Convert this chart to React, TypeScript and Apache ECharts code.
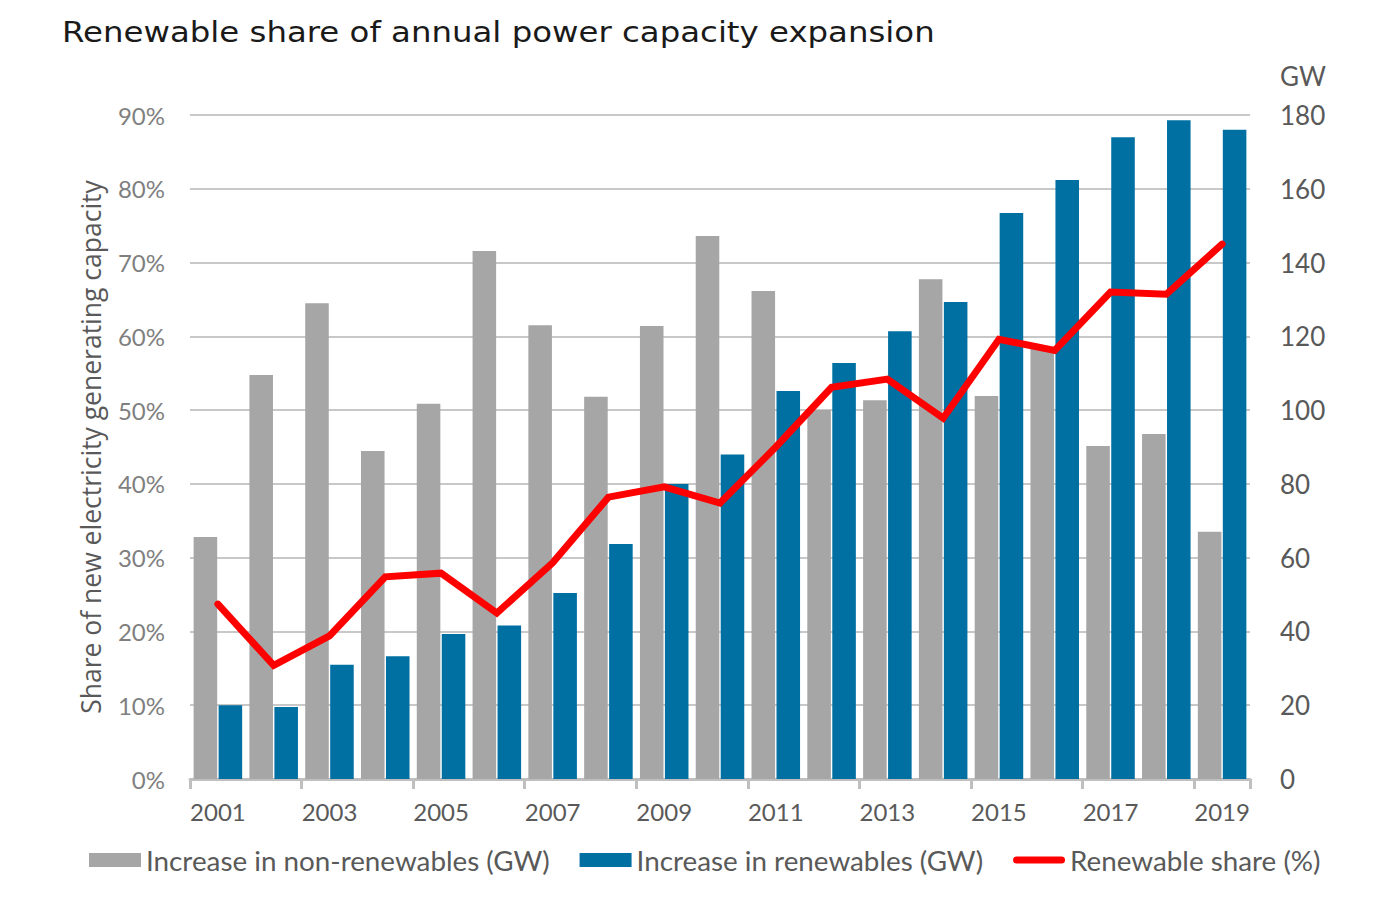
import React, { useEffect, useRef } from "react";
import * as echarts from "echarts";

const years = ["2001","2002","2003","2004","2005","2006","2007","2008","2009","2010","2011","2012","2013","2014","2015","2016","2017","2018","2019"];
const nonRenewablesGW = [65.6, 109.5, 129, 88.9, 101.7, 143.1, 123, 103.6, 122.8, 147.2, 132.3, 100, 102.7, 135.5, 103.8, 117, 90.3, 93.5, 67];
const renewablesGW = [20, 19.5, 31, 33.3, 39.3, 41.6, 50.4, 63.7, 80, 88, 105.2, 112.8, 121.4, 129.3, 153.4, 162.4, 174, 178.6, 176];
const renewableSharePct = [23.7, 15.4, 19.4, 27.4, 27.9, 22.5, 29.3, 38.2, 39.6, 37.4, 45, 53.1, 54.2, 48.9, 59.6, 58.1, 66, 65.7, 72.5];
const titleText = "Renewable share of annual power capacity expansion";

const FONT = "Lato";

export default function App() {
  const ref = useRef<HTMLDivElement>(null);
  useEffect(() => {
    if (!ref.current) return;
    const chart = echarts.init(ref.current, null, { renderer: "svg" });
    chart.setOption({
      animation: false,
      backgroundColor: "#ffffff",
      textStyle: { fontFamily: FONT },
      graphic: [
        {
          type: "text",
          x: 62,
          y: 32,
          scaleX: 1.117,
          style: {
            text: titleText,
            font: '29px "DejaVu Sans"',
            fill: "#1a1a1a",
            textVerticalAlign: "middle",
            textAlign: "left",
          },
        },
      ],
      legend: {
        left: 89,
        top: 846,
        padding: 0,
        itemWidth: 52,
        itemHeight: 14,
        itemGap: 30,
        textStyle: { fontFamily: FONT, fontSize: 27.8, color: "#595959" },
        data: [
          { name: "Increase in non-renewables (GW)", icon: "rect" },
          { name: "Increase in renewables (GW)", icon: "rect" },
          { name: "Renewable share (%)", icon: "path://M4,0 H54 A4,4 0 0 1 54,8 H4 A4,4 0 0 1 4,0 Z" },
        ],
      },
      grid: { left: 190, right: 126, top: 115, bottom: 121, containLabel: false },
      xAxis: {
        type: "category",
        data: years,
        boundaryGap: true,
        axisLine: { lineStyle: { color: "#bfbfbf", width: 3 } },
        axisTick: { show: true, interval: 1, length: 10, lineStyle: { color: "#bfbfbf", width: 3 } },
        axisLabel: { interval: 1, color: "#595959", fontSize: 24, fontFamily: FONT, margin: 20 },
      },
      yAxis: [
        {
          type: "value",
          min: 0,
          max: 90,
          interval: 10,
          position: "left",
          name: "Share of new electricity generating capacity",
          nameLocation: "middle",
          nameRotate: 90,
          nameGap: 86,
          nameTextStyle: { color: "#595959", fontSize: 26.5, fontFamily: "Open Sans" },
          axisLine: { show: false },
          axisTick: { show: false },
          axisLabel: { formatter: "{value}%", color: "#7f7f7f", fontSize: 24, fontFamily: FONT, margin: 25 },
          splitLine: { lineStyle: { color: "#c8c8c8", width: 2 } },
        },
        {
          type: "value",
          min: 0,
          max: 180,
          interval: 20,
          position: "right",
          name: "GW",
          nameLocation: "end",
          nameGap: 26,
          nameTextStyle: { color: "#595959", fontSize: 26, fontFamily: FONT, align: "left", padding: [0, 0, 0, 30] },
          axisLine: { show: false },
          axisTick: { show: false },
          axisLabel: { color: "#595959", fontSize: 26, fontFamily: FONT, margin: 30 },
          splitLine: { show: false },
        },
      ],
      series: [
        {
          name: "Increase in non-renewables (GW)",
          type: "bar",
          yAxisIndex: 1,
          data: nonRenewablesGW,
          barGap: "6%",
          barCategoryGap: "13%",
          itemStyle: { color: "#a6a6a6" },
          z: 2,
        },
        {
          name: "Increase in renewables (GW)",
          type: "bar",
          yAxisIndex: 1,
          data: renewablesGW,
          barGap: "6%",
          barCategoryGap: "13%",
          itemStyle: { color: "#0070a3" },
          z: 2,
        },
        {
          name: "Renewable share (%)",
          type: "line",
          yAxisIndex: 0,
          data: renewableSharePct,
          symbol: "none",
          lineStyle: { color: "#ff0000", width: 7, cap: "round", join: "miter" },
          itemStyle: { color: "#ff0000" },
          z: 5,
        },
      ],
    });
    return () => chart.dispose();
  }, []);
  return (
    <div
      ref={ref}
      style={{ position: "fixed", left: 0, top: 0, width: 1376, height: 900, background: "#fff" }}
    />
  );
}
